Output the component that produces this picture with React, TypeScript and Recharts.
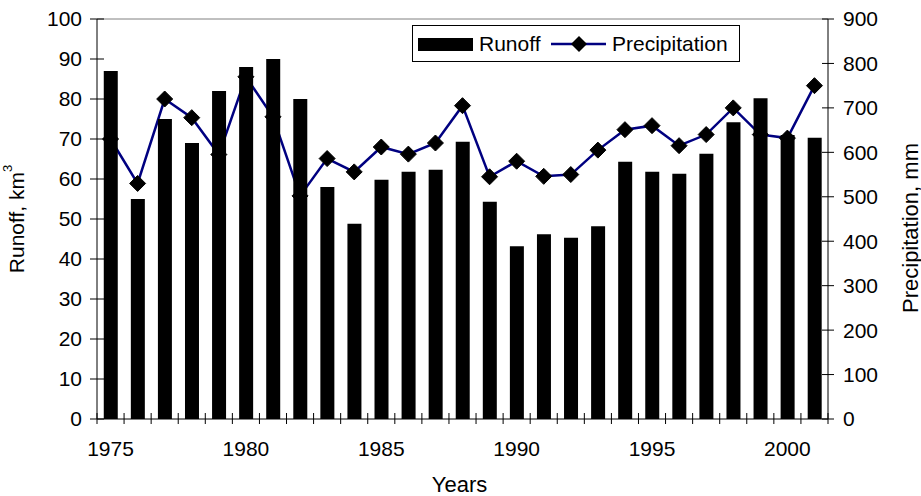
import React from 'react';
import { ComposedChart, Bar, Line, XAxis, YAxis, Legend, ReferenceLine, Label } from 'recharts';

const years = [1975, 1976, 1977, 1978, 1979, 1980, 1981, 1982, 1983, 1984, 1985, 1986, 1987, 1988, 1989, 1990, 1991, 1992, 1993, 1994, 1995, 1996, 1997, 1998, 1999, 2000, 2001];
const runoff = [87, 55, 75, 69, 82, 88, 90, 80, 58, 48.8, 59.8, 61.8, 62.3, 69.3, 54.3, 43.2, 46.2, 45.3, 48.2, 64.3, 61.8, 61.3, 66.3, 74.2, 80.2, 71, 70.3];
const precipitation = [630, 530, 720, 678, 595, 770, 680, 502, 586, 556, 612, 596, 621, 705, 545, 580, 546, 550, 605, 651, 660, 615, 640, 700, 640, 632, 750];
const runoffTicks = [0, 10, 20, 30, 40, 50, 60, 70, 80, 90, 100];
const precipTicks = [0, 100, 200, 300, 400, 500, 600, 700, 800, 900];
const yearLabelStep = 5;
const runoffName = 'Runoff';
const precipName = 'Precipitation';

const data = years.map((year, i) => ({ year, runoff: runoff[i], precipitation: precipitation[i] }));

const FONT = '"Liberation Sans", Arial, sans-serif';
const FS = 21;

const YearTick = (props: any) => {
  const { x, y, payload, index } = props;
  const i = typeof index === 'number' ? index : years.indexOf(payload.value);
  const half = payload && typeof payload.offset === 'number' ? payload.offset : 0;
  const isLast = i === years.length - 1;
  return (
    <g>
      {half > 0 && <line x1={x - half} x2={x - half} y1={y - 6} y2={y + 5} stroke="#000" strokeWidth={1} />}
      {half > 0 && isLast && <line x1={x + half} x2={x + half} y1={y - 6} y2={y + 5} stroke="#000" strokeWidth={1} />}
      {i % yearLabelStep === 0 && (
        <text x={x} y={y + 22} dy="0.71em" textAnchor="middle" fontSize={FS} fontFamily={FONT} fill="#000">{payload.value}</text>
      )}
    </g>
  );
};

const LeftTick = (props: any) => {
  const { x, y, payload } = props;
  return (
    <g>
      <line x1={x - 7} x2={x + 7} y1={y} y2={y} stroke="#000" strokeWidth={1} />
      <text x={x - 15} y={y} dy="0.355em" textAnchor="end" fontSize={FS} fontFamily={FONT} fill="#000">{payload.value}</text>
    </g>
  );
};

const RightTick = (props: any) => {
  const { x, y, payload } = props;
  return (
    <g>
      <line x1={x - 6} x2={x + 6} y1={y} y2={y} stroke="#000" strokeWidth={1} />
      <text x={x + 15} y={y} dy="0.355em" textAnchor="start" fontSize={FS} fontFamily={FONT} fill="#000">{payload.value}</text>
    </g>
  );
};

const Diamond = (props: any) => {
  const { cx, cy, index } = props;
  if (cx == null || cy == null) return <g key={`d-${index}`} />;
  const r = 8;
  return (
    <polygon
      key={`d-${index}`}
      points={`${cx},${cy - r} ${cx + r},${cy} ${cx},${cy + r} ${cx - r},${cy}`}
      fill="#000"
      stroke="#000"
    />
  );
};

const LeftTitle = (props: any) => {
  const vb = props.viewBox || { x: 0, y: 0, width: 0, height: 0 };
  const cx = vb.x + 16;
  const cy = vb.y + vb.height / 2;
  return (
    <text transform={`rotate(-90 ${cx} ${cy})`} x={cx} y={cy} textAnchor="middle" dominantBaseline="central" fontSize={FS} fontFamily={FONT} fill="#000">
      Runoff, km<tspan dy={-9} fontSize={13}>3</tspan>
    </text>
  );
};

const RightTitle = (props: any) => {
  const vb = props.viewBox || { x: 0, y: 0, width: 0, height: 0 };
  const cx = vb.x + 82;
  const cy = vb.y + vb.height / 2 + 9;
  return (
    <text transform={`rotate(-90 ${cx} ${cy})`} x={cx} y={cy} textAnchor="middle" dominantBaseline="central" fontSize={22} fontFamily={FONT} fill="#000">
      Precipitation, mm
    </text>
  );
};

const BottomTitle = (props: any) => {
  const vb = props.viewBox || { x: 0, y: 0, width: 0, height: 0 };
  return (
    <text x={vb.x + vb.width / 2 - 3} y={vb.y + vb.height - 4} textAnchor="middle" fontSize={22} fontFamily={FONT} fill="#000">
      Years
    </text>
  );
};

const LegendBox = () => (
  <div style={{ width: 328, height: 37, boxSizing: 'border-box', border: '1px solid #000', background: '#fff' }}>
    <svg width={326} height={35} style={{ display: 'block' }}>
      <rect x={5} y={12} width={55} height={13} fill="#000" />
      <text x={66} y={25} fontSize={FS} fontFamily={FONT} fill="#000">{runoffName}</text>
      <line x1={138} x2={193} y1={18} y2={18} stroke="#000080" strokeWidth={2.5} />
      <polygon points="166,10 174,18 166,26 158,18" fill="#000" />
      <text x={199} y={25} fontSize={FS} fontFamily={FONT} fill="#000">{precipName}</text>
    </svg>
  </div>
);

export default function App() {
  return (
    <div style={{ position: 'absolute', left: 0, top: 0, width: 921, height: 496, background: '#fff' }}>
      <ComposedChart width={921} height={496} data={data} margin={{ top: 19, right: 0, bottom: 0, left: 0 }} barCategoryGap="25%">
        <XAxis dataKey="year" height={77} interval={0} tickLine={false} tickSize={0} tickMargin={0} axisLine={{ stroke: '#000' }} tick={<YearTick />}>
          <Label content={<BottomTitle />} />
        </XAxis>
        <YAxis yAxisId="left" domain={[0, 100]} ticks={runoffTicks} width={97} interval={0} tickLine={false} tickSize={0} tickMargin={0} axisLine={{ stroke: '#000' }} tick={<LeftTick />}>
          <Label content={<LeftTitle />} />
        </YAxis>
        <YAxis yAxisId="right" orientation="right" domain={[0, 900]} ticks={precipTicks} width={93} interval={0} tickLine={false} tickSize={0} tickMargin={0} axisLine={{ stroke: '#000' }} tick={<RightTick />}>
          <Label content={<RightTitle />} />
        </YAxis>
        <ReferenceLine yAxisId="left" y={100} stroke="#808080" strokeWidth={1} />
        <Line yAxisId="right" dataKey="precipitation" name={precipName} stroke="#000080" strokeWidth={2.5} dot={Diamond} activeDot={false} isAnimationActive={false} />
        <Bar yAxisId="left" dataKey="runoff" name={runoffName} fill="#000" isAnimationActive={false} zIndex={450} />
        <Legend layout="vertical" align="center" verticalAlign="middle" wrapperStyle={{ left: 412, top: 25, width: 328, height: 37 }} content={<LegendBox />} />
      </ComposedChart>
    </div>
  );
}
